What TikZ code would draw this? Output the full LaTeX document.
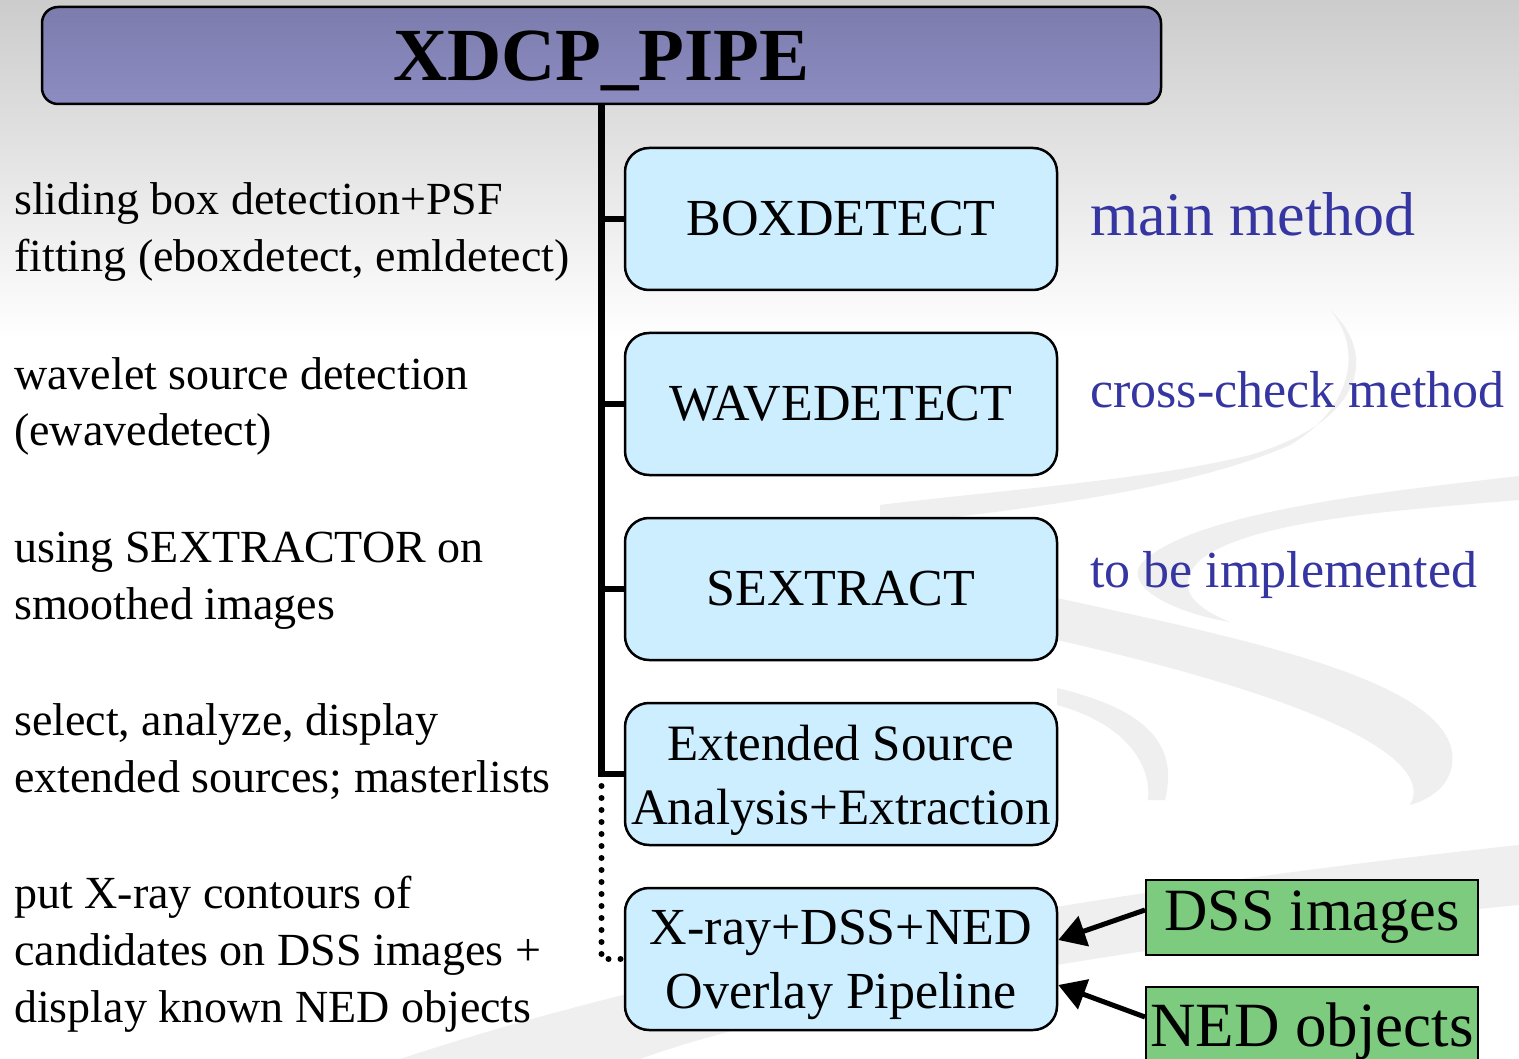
\documentclass[tikz,border=0pt]{standalone}
\usepackage{fontspec}
\setmainfont{Liberation Serif}
\usetikzlibrary{arrows.meta}
\definecolor{titletop}{HTML}{7C7CAD}
\definecolor{titlebot}{HTML}{8C8CC2}
\definecolor{boxfill}{HTML}{CCEEFF}
\definecolor{greenfill}{HTML}{7DCB7E}
\definecolor{labelblue}{HTML}{3636A2}
\definecolor{swoosh}{HTML}{EFEFEF}
\begin{document}
\begin{tikzpicture}[x=1pt,y=-1pt,
  stepbox/.style={draw=black, line width=2.5pt, fill=boxfill, rounded corners=24pt,
    minimum width=432pt, minimum height=142pt, inner sep=0pt, align=center,
    font=\fontsize{52}{64}\selectfont},
  lefttext/.style={anchor=base west, inner sep=0pt, font=\fontsize{46}{57}\selectfont},
  note/.style={anchor=base west, inner sep=0pt, text=labelblue, font=\fontsize{52}{60}\selectfont},
  srcbox/.style={draw=black, line width=2pt, fill=greenfill, inner sep=0pt,
    minimum width=332pt},
  trunk/.style={line width=6.5pt, line join=miter},
  dotline/.style={line width=6pt, line cap=round, dash pattern=on 0pt off 12pt},
  feed/.style={line width=5pt, -{Triangle[length=27pt,width=31pt]}}
]
\useasboundingbox (0,0) rectangle (1519,1059);
% background
\fill[white] (0,0) rectangle (1519,1059);
\fill[top color=black!20, bottom color=white] (0,0) rectangle (1519,340);
% decorative swooshes
\fill[swoosh] (1330,310) .. controls (1375,350) and (1370,420) .. (1250,455)
  .. controls (1150,480) and (1000,490) .. (880,505) -- (880,525)
  .. controls (1050,508) and (1200,485) .. (1290,445)
  .. controls (1350,410) and (1365,350) .. (1330,310) -- cycle;
\fill[swoosh] (1519,476) -- (1519,500) .. controls (1400,510) and (1250,520) .. (1200,560)
  .. controls (1170,590) and (1200,610) .. (1230,622)
  .. controls (1160,610) and (1120,580) .. (1145,560)
  .. controls (1200,510) and (1400,490) .. (1519,476) -- cycle;
\fill[swoosh] (1057,598) .. controls (1250,640) and (1440,680) .. (1452,752)
  .. controls (1456,780) and (1435,798) .. (1410,805)
  .. controls (1425,780) and (1410,720) .. (1057,640) -- cycle;
\fill[swoosh] (1057,688) .. controls (1140,708) and (1180,740) .. (1165,800)
  -- (1148,800) .. controls (1152,760) and (1120,722) .. (1057,705) -- cycle;
\fill[swoosh] (400,1059) .. controls (700,960) and (1100,890) .. (1519,845)
  -- (1519,905) .. controls (1200,935) and (800,1000) .. (640,1059) -- cycle;
% title
\node[draw=black, line width=2.5pt, rounded corners=16pt, top color=titletop, bottom color=titlebot,
  minimum width=1119pt, minimum height=97pt, inner sep=0pt, text depth=0pt,
  font=\bfseries\fontsize{75}{80}\selectfont] (title) at (601.5,55.5) {XDCP\_PIPE};
% method boxes
\node[stepbox] (x1) at (841,219) {BOXDETECT};
\node[stepbox] (x2) at (841,404) {WAVEDETECT};
\node[stepbox] (x3) at (841,589) {SEXTRACT};
\node[stepbox, font=\fontsize{51}{64}\selectfont] (x4) at (841,774) {\rule{0pt}{47pt}Extended Source\\Analysis+Extraction};
\node[stepbox] (x5) at (841,959) {\rule{0pt}{46pt}X-ray+DSS+NED\\Overlay Pipeline};
% tree connectors
\draw[trunk] (title.south) -- (title.south |- x4.west) -- (x4.west);
\draw[trunk] (title.south |- x1.west) -- (x1.west);
\draw[trunk] (title.south |- x2.west) -- (x2.west);
\draw[trunk] (title.south |- x3.west) -- (x3.west);
\draw[dotline] (title.south |- x4.west) -- (title.south |- x5.west) -- (x5.west);
% input boxes
\node[srcbox, minimum height=75pt, font=\fontsize{60}{60}\selectfont] (dss) at (1312,917.5) {DSS images};
\node[srcbox, minimum height=88pt, font=\fontsize{63}{63}\selectfont] (ned) at (1312,1031) {NED objects};
\draw[feed] ([yshift=7.5pt]dss.west) -- ([yshift=19pt]x5.east);
\draw[feed] ([yshift=14pt]ned.west) -- ([yshift=-26pt]x5.east);
% right notes
\node[note, font=\fontsize{62}{62}\selectfont] (n1) at (1090,236) {main method};
\node[note] (n2) at (1090,407) {cross-check method};
\node[note] (n3) at (1090,587) {to be implemented};
% left descriptions
\node[lefttext] (a1) at (14,215) {sliding box detection+PSF};
\node[lefttext] (a2) at (14,272) {fitting (eboxdetect, emldetect)};
\node[lefttext] (b1) at (14,389) {wavelet source detection};
\node[lefttext] (b2) at (14,445) {(ewavedetect)};
\node[lefttext] (c1) at (14,562) {using SEXTRACTOR on};
\node[lefttext] (c2) at (14,619) {smoothed images};
\node[lefttext] (d1) at (14,735) {select, analyze, display};
\node[lefttext] (d2) at (14,792) {extended sources; masterlists};
\node[lefttext] (e1) at (14,908) {put X-ray contours of};
\node[lefttext] (e2) at (14,965) {candidates on DSS images +};
\node[lefttext] (e3) at (14,1022) {display known NED objects};
\end{tikzpicture}
\end{document}
